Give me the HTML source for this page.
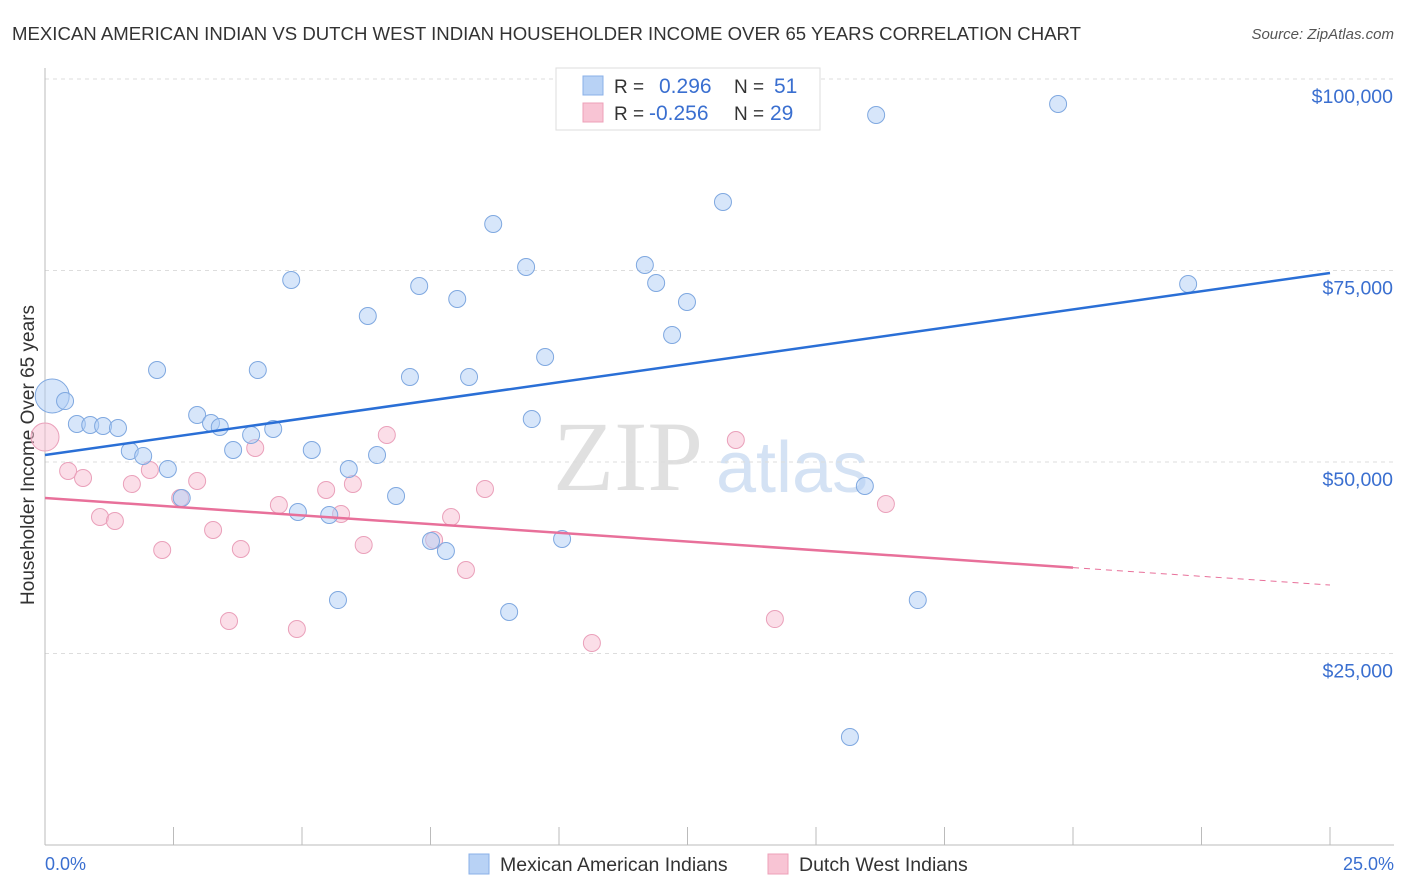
<!DOCTYPE html>
<html><head><meta charset="utf-8"><style>
body{margin:0;background:#fff;font-family:"Liberation Sans",sans-serif;}
svg{display:block}
</style></head><body>
<svg id="chart" width="1406" height="892">
<text x="12" y="40" font-size="18.6" fill="#333">MEXICAN AMERICAN INDIAN VS DUTCH WEST INDIAN HOUSEHOLDER INCOME OVER 65 YEARS CORRELATION CHART</text>
<text x="1394" y="39" font-size="15" fill="#555" font-style="italic" text-anchor="end">Source: ZipAtlas.com</text>
<text transform="translate(34,455) rotate(-90)" font-size="19" fill="#333" text-anchor="middle">Householder Income Over 65 years</text>
<text x="553" y="490" font-size="100" fill="#e0e0e0" font-family="Liberation Serif,serif">ZIP</text>
<text x="716" y="492" font-size="72" fill="#d4e2f4">atlas</text>
<g id="grid"></g><g id="axes"></g><g id="marks"></g>
<g>
<rect x="556" y="68" width="264" height="62" fill="#fff" stroke="#ddd"/>
<rect x="583" y="76" width="20" height="19" fill="#b8d2f5" stroke="#8ab0e8"/>
<rect x="583" y="103" width="20" height="19" fill="#f8c4d4" stroke="#eea0b8"/>
<text x="614" y="93" font-size="19" fill="#333">R =</text><text x="659" y="93" font-size="21" fill="#3a6fd0">0.296</text>
<text x="734" y="93" font-size="19" fill="#333">N =</text><text x="774" y="93" font-size="21" fill="#3a6fd0">51</text>
<text x="614" y="120" font-size="19" fill="#333">R =</text><text x="649" y="120" font-size="21" fill="#3a6fd0">-0.256</text>
<text x="734" y="120" font-size="19" fill="#333">N =</text><text x="770" y="120" font-size="21" fill="#3a6fd0">29</text>
</g>
<g>
<rect x="469" y="854" width="20" height="20" fill="#b8d2f5" stroke="#8ab0e8"/>
<text x="500" y="871" font-size="19.5" fill="#333">Mexican American Indians</text>
<rect x="768" y="854" width="20" height="20" fill="#f8c4d4" stroke="#eea0b8"/>
<text x="799" y="871" font-size="19.5" fill="#333">Dutch West Indians</text>
</g>
<text x="45" y="870" font-size="18" fill="#3a6fd0">0.0%</text>
<text x="1394" y="870" font-size="18" fill="#3a6fd0" text-anchor="end">25.0%</text>
</svg>
<script>
const yTicks=[100000,75000,50000,25000];
const yTickLabels=["$100,000","$75,000","$50,000","$25,000"];
const xTicks=[0,2.5,5,7.5,10,12.5,15,17.5,20,22.5,25];
const blueX=[0.14,0.39,0.62,0.88,1.13,1.42,1.65,1.91,2.18,2.39,2.66,2.96,3.23,3.40,3.66,4.01,4.14,4.44,4.79,4.92,5.19,5.53,5.70,5.91,6.28,6.46,6.83,7.10,7.28,7.51,7.80,8.02,8.25,8.72,9.03,9.36,9.47,9.73,10.06,11.67,11.89,12.20,12.49,12.74,13.19,15.66,15.95,16.17,16.98,19.71,22.24];
const blueY=[58620,57960,54960,54830,54700,54440,51440,50790,62010,49090,45300,56140,55090,54570,51570,53530,62010,54310,73760,43470,51570,43080,31980,49090,69060,50910,45560,61100,72980,39690,38380,71280,61100,81070,30420,75460,55610,63710,39950,75720,73370,66580,70890,98300,83940,14100,46870,95300,31980,96740,73240];
const pinkX=[0.0,0.45,0.74,1.07,1.36,1.69,2.04,2.28,2.63,2.96,3.27,3.58,3.81,4.09,4.55,4.90,5.47,5.76,5.99,6.20,6.65,7.57,7.90,8.19,8.56,10.64,13.44,14.20,16.36];
const pinkY=[53260,48830,47910,42820,42300,47130,48960,38510,45300,47520,41120,29240,38640,51830,44390,28200,46350,43210,47130,39170,53530,39820,42820,35900,46480,26370,52870,29500,44520];
const blueTrend=[50910,74670];
const pinkTrend=[45300,33940];
const pinkSolidEnd=20;
const NS="http://www.w3.org/2000/svg";
function xs(v){return 45+v*51.4;}
function ys(v){return 845-v/130.55;}
function mk(tag,attrs,parent){const e=document.createElementNS(NS,tag);for(const k in attrs)e.setAttribute(k,attrs[k]);document.getElementById(parent).appendChild(e);return e;}
yTicks.forEach((t,i)=>{
 const g=mk('line',{x1:45,x2:1394,y1:ys(t),y2:ys(t),stroke:'#ddd','stroke-dasharray':'4,4'},'grid');
 
 
 const l=mk('text',{x:1393,y:ys(t)+24,'font-size':19.5,fill:'#3a6fd0','text-anchor':'end'},'grid');
 l.textContent=yTickLabels[i];
 
 
});
const xa=mk('line',{x1:45,x2:1394,y1:845,y2:845,stroke:'#bbb'},'axes');


const ya=mk('line',{x1:45,x2:45,y1:68,y2:845,stroke:'#bbb'},'axes');


xTicks.forEach(t=>{
 const e=mk('line',{x1:xs(t),x2:xs(t),y1:827,y2:845,stroke:'#bbb'},'axes');
 
 
});
function dot(x,y,r,fill,stroke,name){
 const c=mk('circle',{cx:xs(x),cy:ys(y),r:r,fill:fill,stroke:stroke,'stroke-width':1},'marks');
 
 
}
pinkX.forEach((x,i)=>dot(x,pinkY[i],i===0?14:8.5,'rgba(248,190,210,0.5)','#eaa0ba','point-dutch'));
blueX.forEach((x,i)=>dot(x,blueY[i],i===0?17:8.5,'rgba(175,205,245,0.5)','#7fa8e0','point-mexican'));
const bt=mk('line',{x1:xs(0),y1:ys(blueTrend[0]),x2:xs(25),y2:ys(blueTrend[1]),stroke:'#2a6fd6','stroke-width':2.5},'marks');


const pm=pinkTrend[0]+(pinkTrend[1]-pinkTrend[0])*pinkSolidEnd/25;
const pt=mk('line',{x1:xs(0),y1:ys(pinkTrend[0]),x2:xs(pinkSolidEnd),y2:ys(pm),stroke:'#e8709a','stroke-width':2.5},'marks');


const pd=mk('line',{x1:xs(pinkSolidEnd),y1:ys(pm),x2:xs(25),y2:ys(pinkTrend[1]),stroke:'#e8709a','stroke-width':1,'stroke-dasharray':'6,5'},'marks');


</script>
</body></html>
